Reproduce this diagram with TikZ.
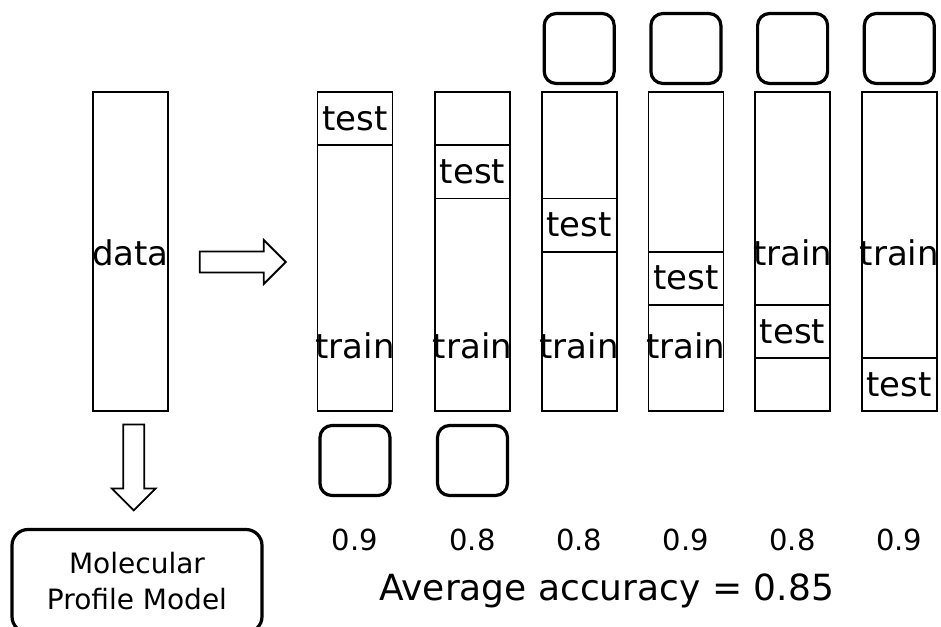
\documentclass[tikz,border=0pt]{standalone}
\usepackage{fontspec}
\setmainfont{DejaVu Sans}
\usetikzlibrary{positioning,calc}
\tikzset{
    %Define style for the data columns
    column/.style={
           rectangle,
           draw=black, line width=1.8pt,
           minimum width=75pt,
           minimum height=319pt,
           inner sep=0pt},
    %Define style for the test blocks
    testblock/.style={
           rectangle,
           draw=black, line width=1.8pt,
           minimum width=75pt,
           minimum height=53.2pt,
           inner sep=0pt,
           anchor=north,
           font=\fontsize{34}{40}\selectfont},
    %Define style for words on the columns
    word/.style={
           inner sep=0pt,
           anchor=base,
           font=\fontsize{34}{40}\selectfont},
    %Define style for the accuracy values
    score/.style={
           inner sep=0pt,
           anchor=base,
           font=\fontsize{29}{34}\selectfont},
    %Define style for rounded model boxes
    modelbox/.style={
           rectangle,
           rounded corners=12pt,
           draw=black, line width=3.2pt,
           minimum width=70pt,
           minimum height=70pt},
    %Define block arrow
    blockarrow/.pic={
           \draw[line width=1.8pt, line join=miter]
             (-43,-10.5) -- (21,-10.5) -- (21,-22) -- (43,0)
             -- (21,22) -- (21,10.5) -- (-43,10.5) -- cycle;},
}

\begin{document}
\begin{tikzpicture}[x=1pt, y=-1pt, node distance=29.9pt]
    \useasboundingbox[fill=white] (0,0) rectangle (941,626);
 %rows
    \coordinate (midrow) at (0,265);
    \coordinate (lowrow) at (0,358);
    \coordinate (accrow) at (0,550);
 %nodes
    \node[column] (data) at (130.5,251.5) {};
    \node[word] (datatxt) at (data.center |- midrow) {data};
    \node[column] (fold1) at (355,251.5) {};
    \node[column, right=40.7pt of fold1] (fold2) {};
    \node[column, right=of fold2] (fold3) {};
    \node[column, right=of fold3] (fold4) {};
    \node[column, right=of fold4] (fold5) {};
    \node[column, right=of fold5] (fold6) {};
 %test blocks
    \node[testblock] (test1) at (fold1.north) {test};
    \node[testblock] (test2) at ([yshift=-53.2pt]fold2.north) {test};
    \node[testblock] (test3) at ([yshift=-106.4pt]fold3.north) {test};
    \node[testblock] (test4) at ([yshift=-159.6pt]fold4.north) {test};
    \node[testblock] (test5) at ([yshift=-212.8pt]fold5.north) {test};
    \node[testblock] (test6) at ([yshift=-266pt]fold6.north) {test};
 %train labels
    \node[word] (train1) at (fold1.center |- lowrow) {train};
    \node[word] (train2) at (fold2.center |- lowrow) {train};
    \node[word] (train3) at (fold3.center |- lowrow) {train};
    \node[word] (train4) at (fold4.center |- lowrow) {train};
    \node[word] (train5) at (fold5.center |- midrow) {train};
    \node[word] (train6) at (fold6.center |- midrow) {train};
 %models
    \node[modelbox, above=6pt of fold3] (top3) {};
    \node[modelbox, above=6pt of fold4] (top4) {};
    \node[modelbox, above=6pt of fold5] (top5) {};
    \node[modelbox, above=6pt of fold6] (top6) {};
    \node[modelbox, below=12pt of fold1] (bot1) {};
    \node[modelbox, below=12pt of fold2] (bot2) {};
    \node[modelbox, rounded corners=16pt, minimum width=250pt,
          minimum height=103pt, align=center,
          font=\fontsize{28}{36}\selectfont] (mpm) at (137,581)
          {Molecular\\Profile Model};
 %scores
    \node[score] (acc1) at (fold1.center |- accrow) {0.9};
    \node[score] (acc2) at (fold2.center |- accrow) {0.8};
    \node[score] (acc3) at (fold3.center |- accrow) {0.8};
    \node[score] (acc4) at (fold4.center |- accrow) {0.9};
    \node[score] (acc5) at (fold5.center |- accrow) {0.8};
    \node[score] (acc6) at (fold6.center |- accrow) {0.9};
    \node[word, font=\fontsize{36}{42}\selectfont] (avg) at (606.5,600)
          {Average accuracy = 0.85};
 %edges
    \pic at ($(data.east)!0.5!(fold1.west)+(0,10.5)$) {blockarrow};
    \pic[rotate=-90] at ($(data.south)!0.5!(mpm.north)+(0,-2.5)$) {blockarrow};
\end{tikzpicture}
\end{document}
